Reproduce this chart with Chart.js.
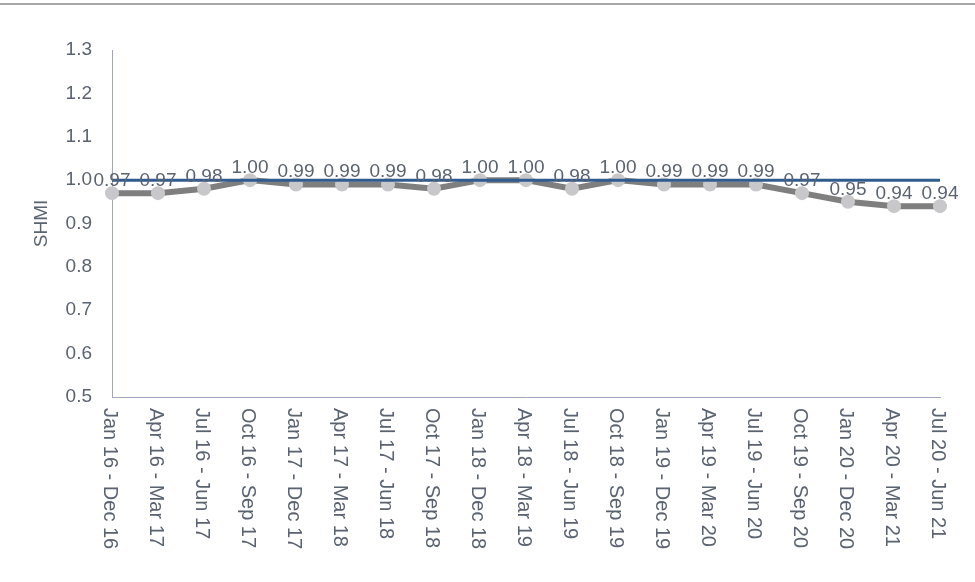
<!DOCTYPE html>
<html>
<head>
<meta charset="utf-8">
<script src="https://cdn.jsdelivr.net/npm/chart.js"></script>
<style>
  html, body { margin: 0; padding: 0; background: #fff; }
  #wrap { width: 975px; height: 582px; position: relative; }
</style>
</head>
<body>
<div id="wrap"><canvas id="shmiChart" width="975" height="582"></canvas></div>
<script>
// Zeitraeume (rollierende 12 Monate)
const periods = ["Jan 16 - Dec 16", "Apr 16 - Mar 17", "Jul 16 - Jun 17", "Oct 16 - Sep 17",
  "Jan 17 - Dec 17", "Apr 17 - Mar 18", "Jul 17 - Jun 18", "Oct 17 - Sep 18",
  "Jan 18 - Dec 18", "Apr 18 - Mar 19", "Jul 18 - Jun 19", "Oct 18 - Sep 19",
  "Jan 19 - Dec 19", "Apr 19 - Mar 20", "Jul 19 - Jun 20", "Oct 19 - Sep 20",
  "Jan 20 - Dec 20", "Apr 20 - Mar 21", "Jul 20 - Jun 21"];
// SHMI Werte
const shmi = [0.97, 0.97, 0.98, 1.00, 0.99, 0.99, 0.99, 0.98, 1.00, 1.00, 0.98, 1.00, 0.99, 0.99, 0.99, 0.97, 0.95, 0.94, 0.94];
// Referenzlinie
const expected = [1, 1, 1, 1, 1, 1, 1, 1, 1, 1, 1, 1, 1, 1, 1, 1, 1, 1, 1];
const yTicks = [0.5, 0.6, 0.7, 0.8, 0.9, 1.0, 1.1, 1.2, 1.3];

const textColor = '#5b6370';
const axisColor = '#a3a3c2';
const fontFam = '"Liberation Sans", Arial, sans-serif';

// obere graue Linie
const topLine = {
  id: 'topLine',
  beforeDraw(chart) {
    const ctx = chart.ctx;
    ctx.save();
    ctx.fillStyle = '#a6a6a6';
    ctx.fillRect(0, 3, chart.width, 2);
    ctx.restore();
  }
};

// Werte ueber den Punkten + gedrehte x-Beschriftung
const labelPlugin = {
  id: 'labelPlugin',
  afterDatasetsDraw(chart) {
    const ctx = chart.ctx;
    const meta = chart.getDatasetMeta(1);
    ctx.save();
    ctx.font = '19px ' + fontFam;
    ctx.fillStyle = textColor;
    ctx.textAlign = 'center';
    ctx.textBaseline = 'bottom';
    meta.data.forEach((pt, i) => {
      ctx.fillText(shmi[i].toFixed(2), pt.x, pt.y - 3);
    });

    const xs = chart.scales.x;
    const bottom = chart.chartArea.bottom;
    ctx.font = '20px ' + fontFam;
    ctx.textAlign = 'left';
    ctx.textBaseline = 'middle';
    periods.forEach((p, i) => {
      const x = xs.getPixelForValue(i);
      ctx.save();
      ctx.translate(x - 2, bottom + 11);
      ctx.rotate(Math.PI / 2);
      ctx.fillText(p, 0, 0);
      ctx.restore();
    });
    ctx.restore();
  }
};

const ctx = document.getElementById('shmiChart').getContext('2d');
new Chart(ctx, {
  type: 'line',
  data: {
    labels: periods,
    datasets: [
      {
        label: 'Expected',
        data: expected,
        borderColor: '#2f5b8f',
        borderWidth: 3,
        pointRadius: 0,
        fill: false,
        order: 0,
        clip: false
      },
      {
        label: 'SHMI',
        data: shmi,
        borderColor: '#7f7f7f',
        borderWidth: 6,
        pointRadius: 7,
        pointBackgroundColor: '#c8c8cb',
        pointBorderWidth: 0,
        fill: false,
        order: 1,
        clip: false
      }
    ]
  },
  options: {
    responsive: false,
    animation: false,
    layout: { padding: { top: 50, right: 35, bottom: 177, left: 0 } },
    plugins: { legend: { display: false }, tooltip: { enabled: false } },
    scales: {
      x: {
        type: 'category',
        offset: false,
        grid: { display: false },
        border: { color: axisColor, width: 1 },
        ticks: { display: false }
      },
      y: {
        min: 0.5,
        max: 1.3,
        afterFit(scale) { scale.width = 112; },
        afterBuildTicks(scale) { scale.ticks = yTicks.map(v => ({ value: v })); },
        grid: { display: false },
        border: { color: axisColor, width: 1 },
        ticks: {
          color: textColor,
          padding: 12,
          font: { size: 19, family: fontFam },
          callback: v => Number(v).toFixed(1)
        },
        title: {
          display: true,
          text: 'SHMI',
          color: textColor,
          padding: { top: 30, bottom: 0 },
          font: { size: 19, family: fontFam }
        }
      }
    }
  },
  plugins: [topLine, labelPlugin]
});
</script>
</body>
</html>
